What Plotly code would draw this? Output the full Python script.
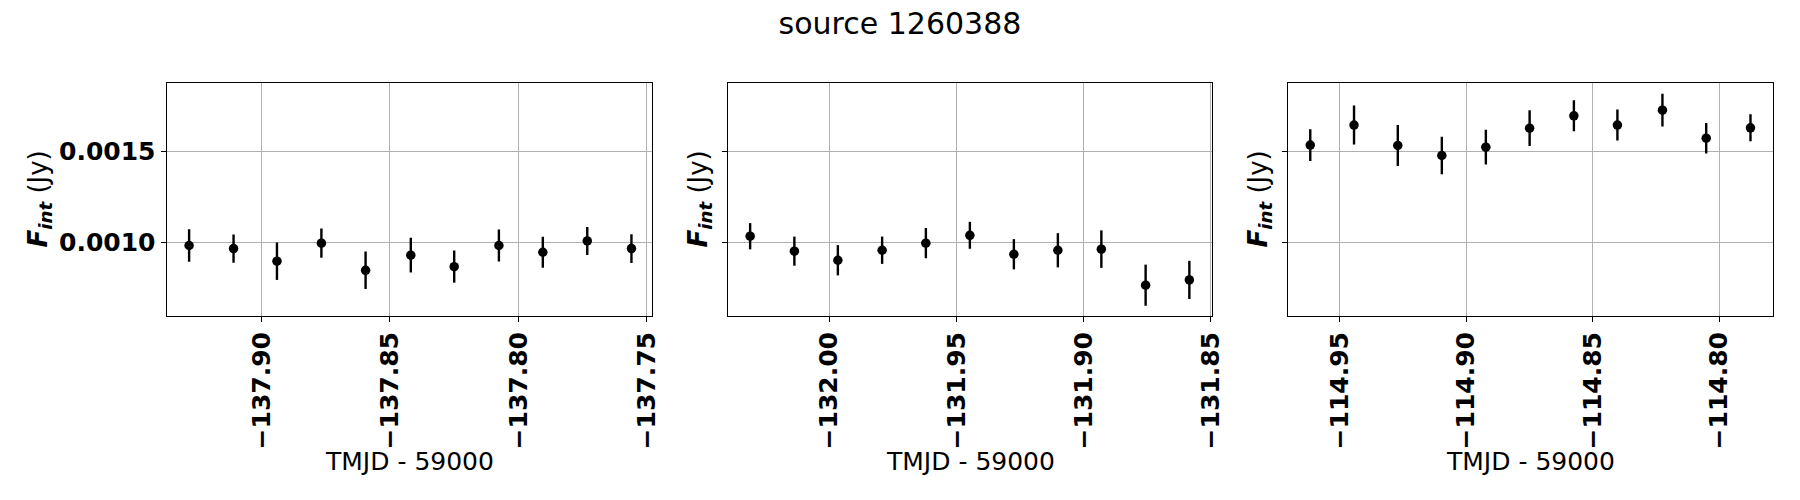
"""
Light curve panels for one source, drawn with Plotly.
"""

import plotly.graph_objects as go
from plotly.subplots import make_subplots

# epoch 1
t1 = [-137.9282, -137.9109, -137.8940, -137.8767, -137.8595, -137.8419,
      -137.8250, -137.8076, -137.7905, -137.7732, -137.7560]
f1 = [0.000982, 0.000965, 0.000896, 0.000995, 0.000846, 0.000929,
      0.000866, 0.000982, 0.000945, 0.001007, 0.000965]
e1 = [0.000089, 0.000078, 0.000103, 0.000080, 0.000103, 0.000095,
      0.000088, 0.000088, 0.000085, 0.000077, 0.000079]

# epoch 2
t2 = [-132.0311, -132.0137, -131.9966, -131.9792, -131.9620, -131.9447,
      -131.9274, -131.9101, -131.8930, -131.8756, -131.8584]
f2 = [0.001033, 0.000951, 0.000901, 0.000956, 0.000995, 0.001038,
      0.000934, 0.000956, 0.000962, 0.000764, 0.000793]
e2 = [0.000072, 0.000080, 0.000083, 0.000075, 0.000083, 0.000074,
      0.000083, 0.000094, 0.000103, 0.000113, 0.000105]

# epoch 3
t3 = [-114.9617, -114.9444, -114.9271, -114.9097, -114.8923, -114.8750,
      -114.8575, -114.8403, -114.8225, -114.8052, -114.7877]
f3 = [0.001533, 0.001643, 0.001531, 0.001476, 0.001522, 0.001626,
      0.001694, 0.001643, 0.001725, 0.001571, 0.001628]
e3 = [0.000087, 0.000107, 0.000112, 0.000103, 0.000096, 0.000098,
      0.000085, 0.000085, 0.000090, 0.000084, 0.000074]

x_ranges = [[-137.937, -137.748], [-132.0398, -131.8495], [-114.9705, -114.779]]
y_range = [0.000595, 0.001874]

title_text = 'source 1260388'
x_title = 'TMJD - 59000'
y_title = '<b><i>F</i></b><sub><b><i>int</i></b></sub> (Jy)'

W, H = 1800, 500
FONT = 'DejaVu Sans'

# panel boxes in pixels (left, right), shared top/bottom
boxes = [(166.5, 652), (728, 1212), (1288, 1772.5)]
top_px, bottom_px = 83, 316


def build_figure() -> go.Figure:
    fig = make_subplots(rows=1, cols=3, shared_yaxes=False)

    for i, (t, f, e) in enumerate([(t1, f1, e1), (t2, f2, e2), (t3, f3, e3)]):
        fig.add_trace(
            go.Scatter(
                x=t, y=f, mode='markers',
                marker=dict(color='black', size=9.5),
                error_y=dict(type='data', array=e, color='black',
                             thickness=2.4, width=0),
                showlegend=False,
            ),
            row=1, col=i + 1,
        )

    axis_common = dict(
        showline=True, mirror=True, linecolor='black', linewidth=1,
        showgrid=True, gridcolor='#b0b0b0', gridwidth=1,
        ticks='outside', ticklen=5, tickcolor='black', tickwidth=1,
        zeroline=False, automargin=False,
        tickfont=dict(family=FONT, size=25, color='black', weight='bold'),
    )

    ydom = [1 - bottom_px / H, 1 - top_px / H]
    for i, (l, r) in enumerate(boxes):
        n = '' if i == 0 else str(i + 1)
        fig.layout['xaxis' + n].update(
            domain=[l / W, r / W], range=x_ranges[i],
            dtick=0.05, tick0=0, tickformat='.2f', tickangle=-90,
            **axis_common,
        )
        fig.layout['yaxis' + n].update(
            domain=ydom, range=y_range,
            dtick=0.0005, tick0=0, tickformat='.4f',
            showticklabels=(i == 0),
            **axis_common,
        )

        # x axis title under each panel
        fig.add_annotation(
            text=x_title, xref='paper', yref='paper',
            x=(l + r) / 2 / W, y=1 - 461 / H,
            xanchor='center', yanchor='middle', showarrow=False,
            font=dict(family=FONT, size=25, color='black'),
        )
        # y axis title left of each panel
        yx = 39 if i == 0 else l - 29
        fig.add_annotation(
            text=y_title, xref='paper', yref='paper',
            x=yx / W, y=1 - (top_px + bottom_px) / 2 / H,
            xanchor='center', yanchor='middle', showarrow=False,
            textangle=-90,
            font=dict(family=FONT, size=26, color='black'),
        )

    fig.update_layout(
        width=W, height=H,
        margin=dict(l=0, r=0, t=0, b=0),
        paper_bgcolor='white',
        plot_bgcolor='white',
        title=dict(text=title_text, x=0.5, xanchor='center',
                   y=1 - 23 / H, yanchor='middle',
                   font=dict(family=FONT, size=30, color='black')),
        font=dict(family=FONT, color='black'),
    )
    return fig


fig = build_figure()
# drop the browser's default body margin so the figure sits at the page origin
fig.write_html("out.html", config={'displayModeBar': False},
               post_script="document.body.style.margin='0';")
